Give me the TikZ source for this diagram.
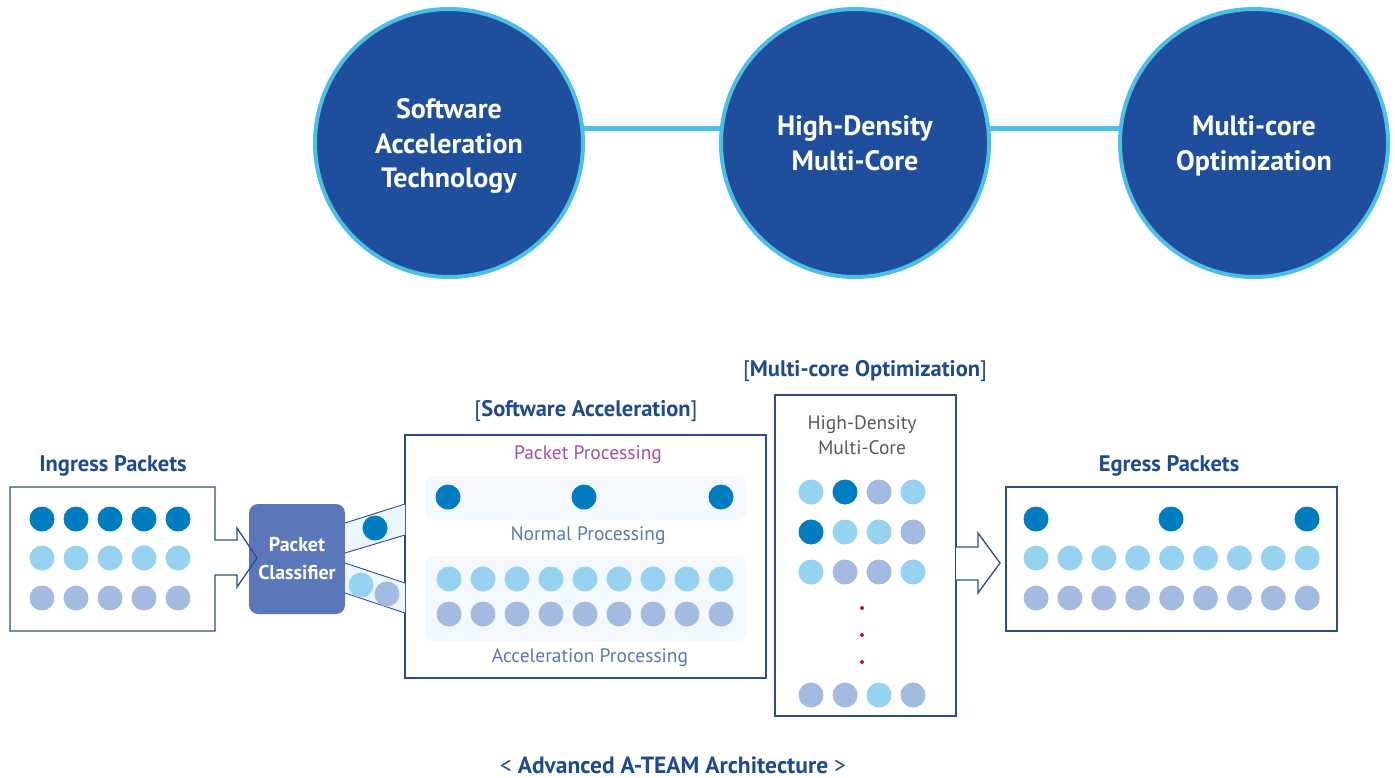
\documentclass[tikz,border=0pt]{standalone}
\usepackage{fontspec}
\setmainfont{PT Sans}
\usetikzlibrary{positioning}
\definecolor{CoreNavy}{HTML}{1F4F9C}
\definecolor{CoreRing}{HTML}{4BBFE6}
\definecolor{TitleBlue}{HTML}{1E4B8E}
\definecolor{BoxBlue}{HTML}{2B4C93}
\definecolor{PktDark}{HTML}{007DC1}
\definecolor{PktLight}{HTML}{97D2F0}
\definecolor{PktGrey}{HTML}{A3BBE1}
\definecolor{ClsBlue}{HTML}{5B77B9}
\definecolor{PanelFill}{HTML}{F3F8FD}
\definecolor{BandFill}{HTML}{EDF5FC}
\definecolor{ProcPurple}{HTML}{A2519C}
\definecolor{ProcBlue}{HTML}{5A76B6}
\definecolor{CoreGrey}{HTML}{595959}
\definecolor{DotRed}{HTML}{C4122F}
\newcommand{\pkt}[3]{\fill[#1] (#2,#3) circle (12.5);}
\newcommand{\fsz}[2]{\fontsize{#1}{#2}\selectfont}

\begin{document}
\begin{tikzpicture}[x=1pt,y=-1pt,
    every node/.style={inner sep=0pt, outer sep=0pt},
    techcircle/.style={circle, fill=CoreNavy, draw=CoreRing, line width=4pt,
      minimum size=268pt, text=white, align=center, text depth=0pt,
      font=\fsz{28}{34.5}\bfseries},
    ringline/.style={CoreRing, line width=5pt},
    boxline/.style={BoxBlue, line width=1.3pt},
    framebox/.style={draw=BoxBlue, line width=1.3pt, rectangle},
    heading/.style={text=TitleBlue, font=\fsz{22.5}{26}\bfseries},
    proclabel/.style={font=\fsz{19.5}{22}},
    panel/.style={fill=PanelFill, rounded corners=8pt},
    band/.style={BoxBlue, line width=0.9pt}]
    \useasboundingbox (0,0) rectangle (1395,777);
    % top row
    \node[techcircle] (sat) at (449,143) {Software\\Acceleration\\Technology};
    \node[techcircle] (hdm) at (855,143) {High-Density\\Multi-Core};
    \node[techcircle] (mco) at (1254,143) {Multi-core\\Optimization};
    \draw[ringline] ([yshift=15pt]sat.east) -- ([yshift=15pt]hdm.west);
    \draw[ringline] ([yshift=15pt]hdm.east) -- ([yshift=15pt]mco.west);
    % boxes
    \node[framebox, minimum width=361pt, minimum height=243pt] (sabox) at (585.5,556.5) {};
    \node[framebox, minimum width=181pt, minimum height=321pt] (mcbox) at (865.5,555.5) {};
    \node[framebox, minimum width=331pt, minimum height=144pt] (egbox) at (1171.5,559) {};
    \fill[panel] (425,476) rectangle (746,520);
    \fill[panel] (425,556) rectangle (746,641);
    % headings
    \node[heading] (inhead) at (113,466) {Ingress Packets};
    \node[heading] (sahead) at (586,411) {{\mdseries[}Software Acceleration{\mdseries]}};
    \node[heading] (mchead) at (865,371) {{\mdseries[}Multi-core Optimization{\mdseries]}};
    \node[heading] (eghead) at (1169,466) {Egress Packets};
    \node[heading, font=\fsz{23.5}{26}\bfseries] (caption) at (673,765) {{\mdseries<} Advanced A-TEAM Architecture {\mdseries>}};
    \node[proclabel, text=ProcPurple] (pphead) at (588,455) {Packet Processing};
    \node[proclabel, text=ProcBlue] (normal) at (588,536) {Normal Processing};
    \node[proclabel, text=ProcBlue] (accel) at (590,658) {Acceleration Processing};
    \node[proclabel, text=CoreGrey, align=center, font=\fsz{19.5}{25}] (hdcore) at (862,435) {High-Density\\Multi-Core};
    % classifier and bands
    \node[fill=ClsBlue, rounded corners=9pt, minimum width=96pt, minimum height=110pt,
      text=white, align=center, font=\fsz{20}{28}\bfseries] (cls) at (297,559) {Packet\\Classifier};
    \fill[BandFill] ([yshift=36pt]cls.east) -- ([yshift=52.5pt]sabox.west)
      -- ([yshift=21.5pt]sabox.west) -- ([yshift=6pt]cls.east) -- cycle;
    \fill[BandFill] ([yshift=-4pt]cls.east) -- ([yshift=-26.5pt]sabox.west)
      -- ([yshift=-56.5pt]sabox.west) -- ([yshift=-34pt]cls.east) -- cycle;
    \draw[band] ([yshift=36pt]cls.east) -- ([yshift=52.5pt]sabox.west);
    \draw[band] ([yshift=6pt]cls.east) -- ([yshift=21.5pt]sabox.west);
    \draw[band] ([yshift=-4pt]cls.east) -- ([yshift=-26.5pt]sabox.west);
    \draw[band] ([yshift=-34pt]cls.east) -- ([yshift=-56.5pt]sabox.west);
    \pkt{PktDark}{375}{528}
    \pkt{PktLight}{361}{585}
    \pkt{PktGrey}{387}{594}
    % ingress box with its arrow
    \draw[boxline] (215,540) -- (215,487) -- (10,487) -- (10,631) -- (215,631)
      -- (215,575) -- (237,575) -- (237,587) -- (257,558) -- (237,528) -- (237,540) -- cycle;
    \draw[boxline, fill=white] (956,547) -- (978,547) -- (978,533) -- (1000,563)
      -- (978,593) -- (978,580) -- (956,580);
    % packets
    \foreach \x in {42,76,110,144,178} {
      \pkt{PktDark}{\x}{519}
      \pkt{PktLight}{\x}{558}
      \pkt{PktGrey}{\x}{598}
    }
    \foreach \x in {448,584,721} {\pkt{PktDark}{\x}{497}}
    \foreach \i in {0,...,8} {
      \pkt{PktLight}{449+34*\i}{579}
      \pkt{PktGrey}{449+34*\i}{614}
    }
    \foreach \c [count=\i from 0] in {PktLight,PktDark,PktGrey,PktLight} {\pkt{\c}{811+34*\i}{492}}
    \foreach \c [count=\i from 0] in {PktDark,PktLight,PktLight,PktGrey} {\pkt{\c}{811+34*\i}{532}}
    \foreach \c [count=\i from 0] in {PktLight,PktGrey,PktGrey,PktLight} {\pkt{\c}{811+34*\i}{572}}
    \foreach \c [count=\i from 0] in {PktGrey,PktGrey,PktLight,PktGrey} {\pkt{\c}{811+34*\i}{695}}
    \foreach \y in {608,635,662} {\fill[DotRed] (862,\y) circle (2);}
    \foreach \x in {1036,1171,1307} {\pkt{PktDark}{\x}{519}}
    \foreach \i in {0,...,8} {
      \pkt{PktLight}{1036+33.9*\i}{558}
      \pkt{PktGrey}{1036+33.9*\i}{598}
    }
\end{tikzpicture}
\end{document}
